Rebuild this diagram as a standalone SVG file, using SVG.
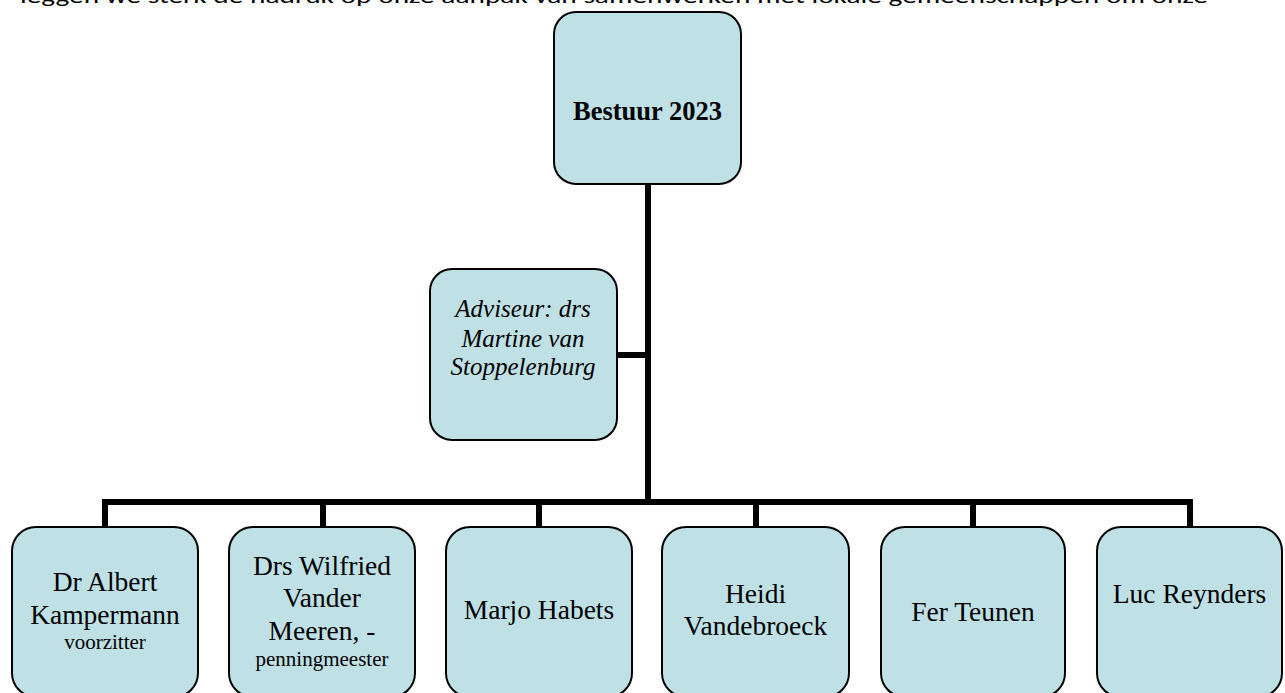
<svg xmlns="http://www.w3.org/2000/svg" width="1285" height="693" viewBox="0 0 1285 693">
<style>
.box{fill:#bfe1e5;stroke:#000;stroke-width:2}
.conn{stroke:#000;stroke-width:6;fill:none;stroke-linecap:square}
.t{font-family:"Liberation Serif","Times New Roman",serif;fill:#000;text-anchor:middle}
.n{font-size:27.5px}
.s{font-size:21px}
</style>
<rect width="1285" height="693" fill="#fff"/>
<text x="20" y="3" font-family="Carlito,'Liberation Sans',Arial,sans-serif" font-size="20" textLength="1188" lengthAdjust="spacingAndGlyphs" fill="#000">leggen we sterk de nadruk op onze aanpak van samenwerken met lokale gemeenschappen om onze</text>
<g id="connectors">
<path class="conn" d="M648 184V502"/>
<path class="conn" d="M617 355H648"/>
<path class="conn" d="M105 527V502H1190V527"/>
<path class="conn" d="M323 502V527M539 502V527M756 502V527M973 502V527"/>
</g>
<g id="bestuur">
<rect class="box" x="554" y="12" width="187" height="172" rx="22"/>
<text class="t" x="647.5" y="120" font-size="26.5" font-weight="bold">Bestuur 2023</text>
</g>
<g id="adviseur">
<rect class="box" x="430" y="269" width="187" height="171" rx="22"/>
<text class="t" x="523" font-size="25" font-style="italic"><tspan x="523" y="317">Adviseur: drs</tspan><tspan x="523" y="347">Martine van</tspan><tspan x="523" y="375">Stoppelenburg</tspan></text>
</g>
<g id="kampermann">
<rect class="box" x="12" y="527" width="186" height="170" rx="24"/>
<text class="t n"><tspan x="105" y="591">Dr Albert</tspan><tspan x="105" y="624">Kampermann</tspan></text>
<text class="t s" x="105" y="649">voorzitter</text>
</g>
<g id="vandermeeren">
<rect class="box" x="229" y="527" width="186" height="170" rx="24"/>
<text class="t n"><tspan x="322" y="575">Drs Wilfried</tspan><tspan x="322" y="607">Vander</tspan><tspan x="322" y="640">Meeren, -</tspan></text>
<text class="t s" x="322" y="666">penningmeester</text>
</g>
<g id="habets">
<rect class="box" x="446" y="527" width="186" height="170" rx="24"/>
<text class="t n" x="539" y="619">Marjo Habets</text>
</g>
<g id="vandebroeck">
<rect class="box" x="662" y="527" width="187" height="170" rx="24"/>
<text class="t n"><tspan x="755.5" y="603">Heidi</tspan><tspan x="755.5" y="635">Vandebroeck</tspan></text>
</g>
<g id="teunen">
<rect class="box" x="881" y="527" width="184" height="170" rx="24"/>
<text class="t n" x="973" y="621">Fer Teunen</text>
</g>
<g id="reynders">
<rect class="box" x="1097" y="527" width="185" height="170" rx="24"/>
<text class="t n" x="1189.5" y="603">Luc Reynders</text>
</g>
</svg>
